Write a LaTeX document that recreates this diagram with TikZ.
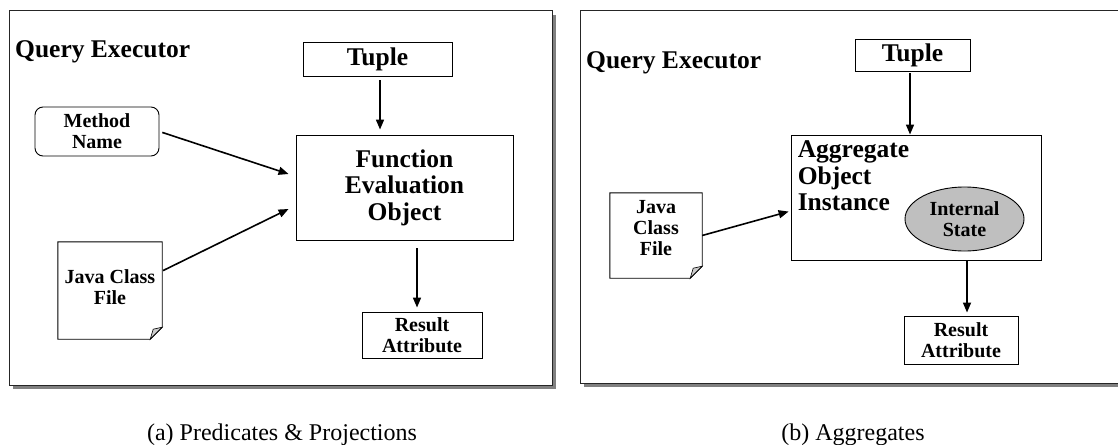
\documentclass[tikz,border=0pt]{standalone}
\usepackage{fontspec}
\setmainfont{Liberation Serif}
\usetikzlibrary{positioning}
\usetikzlibrary{shapes}
\usetikzlibrary{arrows.meta}

\tikzset{
    panel/.style = {draw=black!85, line width=1pt, fill=white},
    shade/.style = {fill=black!50},
    box/.style = {draw, line width=0.9pt, inner sep=0pt, align=center},
    bigtxt/.style = {font=\fontsize{25.5}{26.5}\selectfont\bfseries},
    smalltxt/.style = {font=\fontsize{20}{21}\selectfont\bfseries},
    captxt/.style = {font=\fontsize{24}{26}\selectfont, inner sep=0pt},
    flow/.style = {-{Triangle[length=10pt,width=8pt]}, line width=1.6pt},
}

% page with a turned-down corner round a node
\newcommand\pagefold[1]{%
    \draw[line width=0.9pt] (#1.north west) -- (#1.north east) -- ([yshift=12pt]#1.south east)
        -- ([xshift=-12pt]#1.south east) -- (#1.south west) -- cycle;
    \filldraw[fill=black!20, line width=0.6pt] ([yshift=12pt]#1.south east)
        -- ([xshift=-12pt]#1.south east) -- ([xshift=-9pt,yshift=10pt]#1.south east) -- cycle;
}

\begin{document}
\begin{tikzpicture}[x=1pt, y=-1pt]
    \clip (0,0) rectangle (1118,444);
    % (a) predicates & projections %
    \fill[shade] (13,15) rectangle (556,389);
    \draw[panel] (9,11) rectangle (552,385);
    \node[bigtxt, anchor=base west, inner sep=0pt] (qeA) at (15,57) {Query Executor};
    \node[box, bigtxt, minimum width=149pt, minimum height=34pt] (tupleA) at (377.5,59) {Tuple};
    \node[box, bigtxt, minimum width=217pt, minimum height=105pt] (feoA) at (404.5,187.5) {Function\\Evaluation\\Object};
    \node[box, smalltxt, rounded corners=8pt, minimum width=124pt, minimum height=49pt] (methodA) at (97,131.5) {Method\\Name};
    \node[smalltxt, inner sep=0pt, align=center, text depth=7pt, minimum width=104pt, minimum height=97pt] (javaA) at (110,290.5) {Java Class\\File};
    \pagefold{javaA}
    \node[box, smalltxt, minimum width=120pt, minimum height=46pt] (resA) at (422,335) {Result\\Attribute};
    \coordinate (feoInA) at ([xshift=-7pt, yshift=13.5pt]feoA.west);
    \coordinate (feoInB) at ([xshift=-7pt, yshift=-21.5pt]feoA.west);
    % edges %
    \draw[flow, shorten <=4pt, shorten >=5pt] ([xshift=2.5pt]tupleA.south) -- ([xshift=2.5pt]tupleA.south |- feoA.north);
    \draw[flow, shorten <=3pt] (methodA.east) -- (feoInA);
    \draw[flow, shorten <=1pt] ([yshift=19.5pt]javaA.east) -- (feoInB);
    \draw[flow, shorten <=8pt, shorten >=4pt] ([xshift=-5pt]resA.north |- feoA.south) -- ([xshift=-5pt]resA.north);
    \node[captxt, anchor=base] (capA) at (282,440) {(a) Predicates \& Projections};

    % (b) aggregates %
    \fill[shade] (584,15) rectangle (1130,387);
    \draw[panel] (580,11) rectangle (1126,383);
    \node[bigtxt, anchor=base west, inner sep=0pt] (qeB) at (586,68) {Query Executor};
    \node[box, bigtxt, minimum width=115pt, minimum height=32pt] (tupleB) at (912.5,55) {Tuple};
    \node[box, minimum width=250pt, minimum height=125pt] (aoiB) at (916,197.5) {};
    \node[bigtxt, anchor=north west, align=left, inner sep=0pt] (aoiTxt) at ([xshift=7pt, yshift=-6pt]aoiB.north west) {Aggregate\\Object\\Instance};
    \node[ellipse, draw, line width=0.9pt, fill=black!25, smalltxt, inner sep=0pt, align=center, minimum width=119pt, minimum height=64pt] (stateB) at (964.5,219) {Internal\\State};
    \node[smalltxt, inner sep=0pt, align=center, text depth=15pt, minimum width=92pt, minimum height=85pt] (javaB) at (656,235.5) {Java\\Class\\File};
    \pagefold{javaB}
    \node[box, smalltxt, minimum width=114pt, minimum height=48pt] (resB) at (961,340) {Result\\Attribute};
    \coordinate (aoiIn) at ([yshift=-13.5pt]aoiB.west);
    % edges %
    \draw[flow, shorten <=2pt] ([xshift=-2.5pt]tupleB.south) -- ([xshift=-2.5pt]tupleB.south |- aoiB.north);
    \draw[flow, shorten >=2pt] (javaB.east) -- (aoiIn);
    \draw[flow, shorten >=3pt] ([xshift=6pt]resB.north |- aoiB.south) -- ([xshift=6pt]resB.north);
    \node[captxt, anchor=base] (capB) at (853,440) {(b) Aggregates};
\end{tikzpicture}
\end{document}
